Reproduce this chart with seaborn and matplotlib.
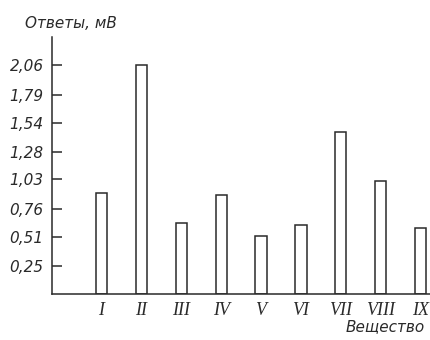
import matplotlib
matplotlib.use("Agg")
import matplotlib.pyplot as plt
import seaborn as sns
import pandas as pd

# Response of each substance, mV
substances = ["I", "II", "III", "IV", "V", "VI", "VII", "VIII", "IX"]
responses = [0.91, 2.06, 0.64, 0.89, 0.52, 0.62, 1.46, 1.02, 0.59]
tick_values = [0.25, 0.51, 0.76, 1.03, 1.28, 1.54, 1.79, 2.06]
tick_labels = ["0,25", "0,51", "0,76", "1,03", "1,28", "1,54", "1,79", "2,06"]

df = pd.DataFrame({"substance": substances, "response": responses})

sns.set_style("white")
plt.rcParams["font.family"] = ["DejaVu Sans"]

W, H = 431, 340
ink = "#2a2a2a"
fig = plt.figure(figsize=(W / 100, H / 100), dpi=100)
ax = fig.add_axes([52 / W, (H - 294) / H, 1 - 52 / W, (294 - 37) / H])

sns.barplot(data=df, x="substance", y="response", ax=ax, width=0.28,
            color="white", edgecolor=ink, linewidth=1.1)
for p in ax.patches:
    p.set_facecolor("white")

ax.set_xlim(-1.24, 8.26)
ax.set_ylim(0, 2.31)
ax.set_yticks(tick_values)
ax.set_yticklabels(tick_labels, fontsize=11, style="italic", color=ink)
ax.set_xticks(range(len(substances)))
ax.set_xticklabels(substances, fontsize=13, style="italic",
                   family="Liberation Serif", color=ink)
ax.tick_params(axis="y", left=True, direction="in", length=7, width=1.1,
               pad=6, colors=ink)
ax.tick_params(axis="x", bottom=False, length=0, pad=6)

ax.set_xlabel("")
ax.set_ylabel("")
for side in ["top", "right"]:
    ax.spines[side].set_visible(False)
for side in ["left", "bottom"]:
    ax.spines[side].set_color(ink)
    ax.spines[side].set_linewidth(1.1)

fig.text(25 / W, 1 - 23 / H, "Ответы, мВ", fontsize=11, style="italic",
         color=ink, va="center", ha="left")
fig.text(425 / W, 1 - 327 / H, "Вещество", fontsize=11, style="italic",
         color=ink, va="center", ha="right")

fig.savefig("out.png", dpi=100, facecolor="white")
